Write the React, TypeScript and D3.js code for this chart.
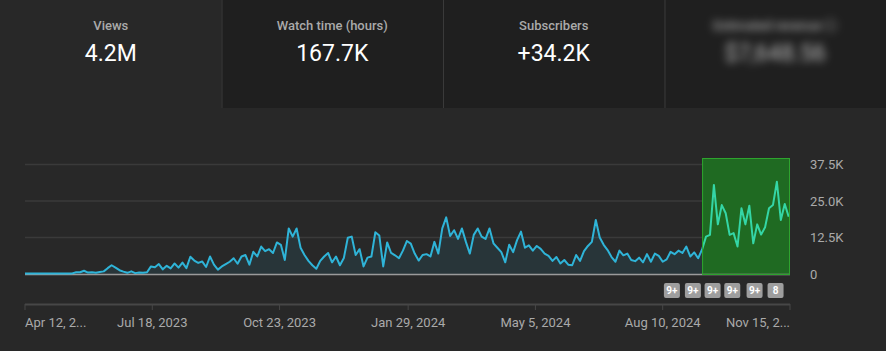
import React from 'react'
import * as d3 from 'd3'

const W = 886, H = 351

// header cards
const cardLabels = ['Views', 'Watch time (hours)', 'Subscribers', 'Estimated revenue ⓘ']
const cardValues = ['4.2M', '167.7K', '+34.2K', '$7,648.56']

// daily views, one value every 3 days starting Apr 12, 2023 (thousands)
const startDate = new Date(2023, 3, 12)
const stepDays = 3
const views = [
  0.2, 0.2, 0.2, 0.2, 0.2, 0.2, 0.2, 0.2, 0.2, 0.2, 0.2, 0.2, 0.2, 0.6, 0.6, 1.1, 0.5, 0.6, 0.4, 0.7,
  0.9, 2.0, 3.0, 2.2, 1.3, 0.8, 0.4, 0.9, 0.3, 0.5, 0.4, 0.6, 2.6, 2.3, 3.4, 1.6, 2.8, 1.9, 3.6, 2.2,
  3.9, 2.0, 5.9, 4.6, 3.8, 4.3, 2.4, 6.0, 3.2, 1.5, 2.6, 3.4, 4.2, 5.4, 3.5, 6.0, 6.5, 3.2, 7.6, 6.0,
  9.4, 7.8, 8.5, 7.2, 10.8, 10.0, 4.8, 15.6, 12.8, 15.6, 9.0, 6.5, 4.5, 3.0, 1.8, 4.5, 6.0, 7.2, 4.0, 6.0,
  3.0, 5.5, 12.4, 12.8, 6.5, 8.5, 2.6, 5.6, 6.0, 14.3, 13.2, 2.6, 10.8, 7.2, 6.4, 5.4, 8.0, 11.3, 10.4, 7.0,
  4.6, 6.5, 6.8, 6.0, 11.0, 7.0, 15.6, 19.4, 13.0, 15.0, 12.0, 15.6, 11.0, 7.0, 13.4, 15.6, 12.8, 12.0, 15.6, 10.5,
  9.0, 7.5, 4.0, 10.0, 7.5, 11.6, 14.5, 9.0, 9.8, 8.0, 9.6, 8.6, 7.0, 6.2, 4.5, 5.8, 3.6, 4.8, 3.2, 3.0,
  6.5, 4.5, 7.8, 9.6, 11.0, 18.5, 12.5, 10.0, 8.2, 5.8, 4.2, 8.0, 6.4, 7.0, 4.8, 4.4, 5.6, 4.0, 6.8, 4.2,
  7.0, 6.2, 4.2, 5.0, 7.6, 6.8, 8.0, 7.2, 9.4, 6.0, 7.4, 5.4, 8.4, 12.8, 13.4, 30.5, 17.0, 23.6, 20.8, 13.4,
  14.0, 9.4, 22.5, 17.0, 23.4, 10.5, 17.0, 13.5, 16.0, 22.5, 23.6, 31.6, 18.5, 24.0, 19.6,
]

const yTicks = [0, 12.5, 25, 37.5]
const yTickLabels = ['0', '12.5K', '25.0K', '37.5K']

const xTickDates = ['2023-04-12', '2023-07-18', '2023-10-23', '2024-01-29', '2024-05-05', '2024-08-10', '2024-11-15']
const xTickLabels = ['Apr 12, 2...', 'Jul 18, 2023', 'Oct 23, 2023', 'Jan 29, 2024', 'May 5, 2024', 'Aug 10, 2024', 'Nov 15, 2...']

// highlighted range (selected period)
const highlightStart = '2024-09-09'
const highlightEnd = '2024-11-15'

// annotation badges under the chart
const badgeDates = ['2024-08-17', '2024-09-02', '2024-09-17', '2024-10-02', '2024-10-19', '2024-11-04']
const badgeLabels = ['9+', '9+', '9+', '9+', '9+', '8']

const parse = (s: string) => {
  const [y, m, d] = s.split('-').map(Number)
  return new Date(y, m - 1, d)
}

export default function App() {
  const data = views.map((v, i) => ({ date: d3.timeDay.offset(startDate, i * stepDays), value: v }))

  const x = d3.scaleTime()
    .domain([parse(xTickDates[0]), parse(xTickDates[xTickDates.length - 1])])
    .range([25, 790])
  const y = d3.scaleLinear().domain([0, 37.5]).range([274, 164.5])

  const line = d3.line<{ date: Date, value: number }>()
    .x(d => x(d.date))
    .y(d => y(d.value))
  const area = d3.area<{ date: Date, value: number }>()
    .x(d => x(d.date))
    .y0(y(0))
    .y1(d => y(d.value))

  const hx0 = x(parse(highlightStart))
  const hx1 = x(parse(highlightEnd))
  const cardW = W / 4
  const font = 'Roboto, "Noto Sans", sans-serif'

  return (
    <svg width={W} height={H} style={{ position: 'fixed', left: 0, top: 0, fontFamily: font }}>
      <defs>
        <filter id="blur" x="-20%" y="-60%" width="140%" height="220%">
          <feGaussianBlur stdDeviation="4.5" />
        </filter>
        <clipPath id="left"><rect x={0} y={0} width={hx0} height={H} /></clipPath>
        <clipPath id="right"><rect x={hx0} y={0} width={W - hx0} height={H} /></clipPath>
      </defs>
      <rect width={W} height={H} fill="#282828" />

      {cardLabels.map((lab, i) => (
        <g key={lab} transform={`translate(${i * cardW},0)`}>
          <rect width={cardW} height={108} fill={i === 0 ? '#282828' : '#1f1f1f'} />
          {i > 0 && <line x1={0.5} x2={0.5} y1={0} y2={108} stroke="#3a3a3a" />}
          <g filter={i === 3 ? 'url(#blur)' : undefined}>
            <text x={cardW / 2} y={30} textAnchor="middle" fontSize={13} fontWeight={500} fill="#aaaaaa">{lab}</text>
            <text x={cardW / 2} y={61} textAnchor="middle" fontSize={23} fill={i === 3 ? '#bdbdbd' : '#ffffff'}>{cardValues[i]}</text>
          </g>
        </g>
      ))}

      {yTicks.slice(1).map(t => (
        <line key={t} x1={25} x2={790} y1={y(t)} y2={y(t)} stroke="#3a3a3a" strokeWidth={1.5} />
      ))}
      {yTicks.map((t, i) => (
        <text key={t} x={810} y={y(t)} dy="0.35em" fontSize={13} fill="#aaaaaa">{yTickLabels[i]}</text>
      ))}

      <rect x={hx0} y={158} width={hx1 - hx0} height={y(0) - 158} fill="#1f6a22" />

      <g clipPath="url(#left)">
        <path d={area(data) ?? ''} fill="#30b4d8" fillOpacity={0.1} />
      </g>
      <line x1={25} x2={790} y1={y(0) + 0.5} y2={y(0) + 0.5} stroke="#9a9a9a" strokeWidth={1.5} />
      <g clipPath="url(#left)">
        <path d={line(data) ?? ''} fill="none" stroke="#2fb4d8" strokeWidth={2} strokeLinejoin="round" />
      </g>
      <g clipPath="url(#right)">
        <path d={line(data) ?? ''} fill="none" stroke="#34d6a6" strokeWidth={2} strokeLinejoin="round" />
      </g>
      <rect x={hx0 + 0.5} y={158.5} width={hx1 - hx0 - 1} height={y(0) - 158} fill="none" stroke="#2ea42e" strokeWidth={1} />

      {badgeDates.map((d, i) => (
        <g key={i} transform={`translate(${x(parse(d))},290)`}>
          <rect x={-8} y={-7} width={16} height={15} rx={2} fill="#9e9e9e" />
          <text y={0} dy="0.35em" textAnchor="middle" fontSize={10} fontWeight={700} fill="#ffffff">{badgeLabels[i]}</text>
        </g>
      ))}

      <line x1={25} x2={790} y1={304.5} y2={304.5} stroke="#474747" strokeWidth={2} />
      {xTickDates.map((d, i) => {
        const tx = x(parse(d))
        const anchor = i === 0 ? 'start' : i === xTickDates.length - 1 ? 'end' : 'middle'
        return (
          <g key={d}>
            <line x1={tx} x2={tx} y1={304} y2={310} stroke="#474747" strokeWidth={1} />
            <text x={tx} y={327} textAnchor={anchor} fontSize={13} fill="#aaaaaa">{xTickLabels[i]}</text>
          </g>
        )
      })}
    </svg>
  )
}
